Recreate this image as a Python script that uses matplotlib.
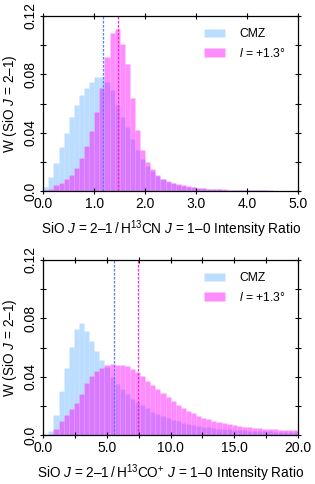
import matplotlib
matplotlib.use('Agg')
import matplotlib.pyplot as plt
import numpy as np

plt.rcParams['font.family'] = ['Liberation Sans', 'DejaVu Sans']
plt.rcParams['mathtext.fontset'] = 'custom'
plt.rcParams['mathtext.rm'] = 'Liberation Sans'
plt.rcParams['mathtext.it'] = 'Liberation Sans:italic'

# top panel: SiO / H13CN, 50 bins of 0.1 over 0-5
hcn_edges = np.linspace(0, 5, 51)
hcn_cmz = [0.003, 0.010, 0.019, 0.030, 0.040, 0.051, 0.059, 0.066, 0.071, 0.075,
           0.078, 0.078, 0.075, 0.069, 0.059, 0.051, 0.044, 0.036, 0.028, 0.022,
           0.017, 0.0135, 0.0105, 0.0082, 0.0066, 0.0054, 0.0045, 0.0038, 0.0032, 0.0027,
           0.0023, 0.002, 0.0017, 0.0015, 0.0013, 0.0011, 0.001, 0.0009, 0.0008, 0.0007,
           0.0006, 0.0006, 0.0005, 0.0005, 0.0004, 0.0004, 0.0003, 0.0003, 0.0003, 0.0002]
hcn_l13 = [0.0005, 0.0016, 0.004, 0.0055, 0.008, 0.011, 0.016, 0.023, 0.031, 0.041,
           0.054, 0.071, 0.092, 0.108, 0.111, 0.101, 0.087, 0.064, 0.042, 0.028,
           0.020, 0.015, 0.011, 0.0085, 0.0068, 0.0056, 0.0047, 0.004, 0.0034, 0.0029,
           0.0025, 0.0021, 0.0018, 0.0016, 0.0014, 0.0012, 0.0011, 0.001, 0.0009, 0.0008,
           0.0007, 0.0006, 0.0006, 0.0005, 0.0005, 0.0004, 0.0004, 0.0004, 0.0003, 0.0003]
hcn_mean = [1.17, 1.465]

# bottom panel: SiO / H13CO+, 50 bins of 0.4 over 0-20
hco_edges = np.linspace(0, 20, 51)
hco_cmz = [0.0007, 0.0025, 0.0137, 0.030, 0.046, 0.0605, 0.073, 0.0765, 0.071, 0.0645,
           0.0578, 0.0514, 0.0465, 0.040, 0.035, 0.0313, 0.028, 0.025, 0.0228, 0.0205,
           0.0183, 0.016, 0.0144, 0.0128, 0.0116, 0.0104, 0.0094, 0.0085, 0.0077, 0.007,
           0.0064, 0.0058, 0.0053, 0.0049, 0.0045, 0.0042, 0.0039, 0.0036, 0.0034, 0.0032,
           0.003, 0.0028, 0.0027, 0.0026, 0.0025, 0.0024, 0.0023, 0.0022, 0.0022, 0.0021]
hco_l13 = [0.0, 0.0005, 0.004, 0.0096, 0.0137, 0.0176, 0.022, 0.0285, 0.0354, 0.0406,
           0.0437, 0.046, 0.0478, 0.0484, 0.0482, 0.0478, 0.0472, 0.0455, 0.043, 0.0405,
           0.037, 0.034, 0.0315, 0.0287, 0.026, 0.0232, 0.0205, 0.0185, 0.0167, 0.015,
           0.0134, 0.012, 0.0108, 0.0098, 0.0089, 0.0081, 0.0074, 0.0068, 0.0063, 0.0059,
           0.0055, 0.0051, 0.0048, 0.0045, 0.0042, 0.004, 0.0038, 0.0036, 0.0035, 0.0034]
hco_mean = [5.57, 7.45]

labels = ['CMZ', r'$l$ = +1.3°']
fill = [(0.12, 0.56, 1.0, 0.3), (1.0, 0.0, 1.0, 0.45)]
lines = ['#4f7dff', '#ff1fc8']
ylab = r'W (SiO $J$ = 2–1)'

fig = plt.figure(figsize=(3.15, 4.84), dpi=100)
ax1 = fig.add_axes([0.1375, 0.605, 0.8085, 0.362])
ax2 = fig.add_axes([0.1375, 0.101, 0.8085, 0.362])

def panel(ax, edges, series, means, xmax, major, minor, fmt, xlabel):
    w = np.diff(edges)
    for s, c, lab in zip(series, fill, labels):
        ax.bar(edges[:-1], s, width=w, align='edge', color=c,
               edgecolor=(1, 1, 1, 0.15), linewidth=0.4, label=lab)
    for m, c in zip(means, lines):
        ax.axvline(m, color=c, linestyle=(0, (2, 1.2)), linewidth=0.9)
    ax.set_xlim(0, xmax)
    ax.set_ylim(0, 0.12)
    ax.set_xticks(np.arange(0, xmax + 0.01, minor), minor=True)
    ax.set_xticks(np.arange(0, xmax + 0.01, major))
    ax.set_xticklabels([fmt % v for v in np.arange(0, xmax + 0.01, major)])
    ax.set_yticks([0, 0.02, 0.06, 0.10], minor=True)
    ax.set_yticks([0, 0.04, 0.08, 0.12])
    ax.set_yticklabels(['0.0', '0.04', '0.08', '0.12'], rotation=90, va='center')
    ax.tick_params(which='both', direction='inout', length=5, width=0.8,
                   top=True, right=True, labelsize=10, pad=2)
    ax.tick_params(axis='x', which='minor', labelbottom=False)
    for sp in ax.spines.values():
        sp.set_linewidth(0.9)
    ax.set_xlabel(xlabel, fontsize=9.8, labelpad=5)
    ax.set_ylabel(ylab, fontsize=9.8, labelpad=3)
    ax.legend(loc='upper right', frameon=False, fontsize=8.7,
              handlelength=1.7, handleheight=0.7, handletextpad=1.2,
              borderaxespad=0.6, labelspacing=0.55)

panel(ax1, hcn_edges, [hcn_cmz, hcn_l13], hcn_mean, 5, 1.0, 1.0, '%.1f',
      r'SiO $J$ = 2–1$\,/\,$H$^{\rm 13}$CN $J$ = 1–0 Intensity Ratio')
panel(ax2, hco_edges, [hco_cmz, hco_l13], hco_mean, 20, 5.0, 2.5, '%.1f',
      r'SiO $J$ = 2–1$\,/\,$H$^{\rm 13}$CO$^{+}$ $J$ = 1–0 Intensity Ratio')

fig.savefig('out.png', dpi=100)
